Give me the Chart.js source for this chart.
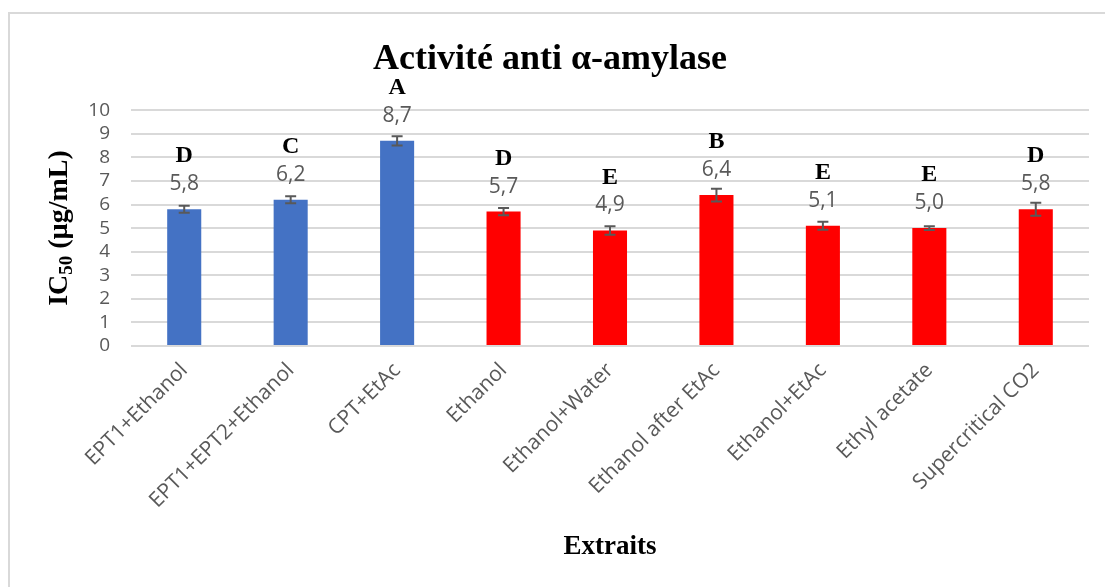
<!DOCTYPE html>
<html>
<head>
<meta charset="utf-8">
<script src="https://cdn.jsdelivr.net/npm/chart.js@4"></script>
<style>
  html, body { margin: 0; padding: 0; background: #fff; overflow: hidden; }
  #wrap { position: relative; width: 1105px; height: 587px; }
  #frame { position: absolute; left: 8px; top: 12px; width: 1200px; height: 700px; border: 2px solid #d9d9d9; box-sizing: border-box; }
  canvas { position: absolute; left: 0; top: 0; }
</style>
</head>
<body>
<div id="wrap">
  <div id="frame"></div>
  <canvas id="ic50Chart" width="1105" height="587"></canvas>
</div>
<script>
// ==== DATA ====
const extraits = ['EPT1+Ethanol', 'EPT1+EPT2+Ethanol', 'CPT+EtAc', 'Ethanol', 'Ethanol+Water',
                  'Ethanol after EtAc', 'Ethanol+EtAc', 'Ethyl acetate', 'Supercritical CO2'];
const ic50 = [5.8, 6.2, 8.7, 5.7, 4.9, 6.4, 5.1, 5.0, 5.8];
const ic50Err = [0.15, 0.15, 0.2, 0.15, 0.18, 0.27, 0.17, 0.08, 0.28];
const groups = ['D', 'C', 'A', 'D', 'E', 'B', 'E', 'E', 'D'];
const yTicks = [0, 1, 2, 3, 4, 5, 6, 7, 8, 9, 10];

const barColors = ic50.map((v, i) => i < 3 ? '#4472C4' : '#FF0000');

// error bars, value labels, letters and the y title with subscript
const annotatePlugin = {
    id: 'annotate',
    afterDatasetsDraw(chart) {
        const ctx = chart.ctx;
        const y = chart.scales.y;
        const meta = chart.getDatasetMeta(0);
        ctx.save();
        meta.data.forEach((bar, i) => {
            const hi = y.getPixelForValue(ic50[i] + ic50Err[i]);
            const lo = y.getPixelForValue(ic50[i] - ic50Err[i]);
            ctx.strokeStyle = '#595959';
            ctx.lineWidth = 2;
            ctx.beginPath();
            ctx.moveTo(bar.x, hi); ctx.lineTo(bar.x, lo);
            ctx.moveTo(bar.x - 5.5, hi); ctx.lineTo(bar.x + 5.5, hi);
            ctx.moveTo(bar.x - 5.5, lo); ctx.lineTo(bar.x + 5.5, lo);
            ctx.stroke();

            ctx.textAlign = 'center';
            ctx.textBaseline = 'middle';
            ctx.fillStyle = '#595959';
            ctx.font = '21px "Open Sans"';
            ctx.fillText(ic50[i].toFixed(1).replace('.', ','), bar.x, bar.y - 25);
            ctx.fillStyle = '#000';
            ctx.font = 'bold 24px "Liberation Serif"';
            ctx.fillText(groups[i], bar.x, bar.y - 53);
        });

        // y axis title: IC50 (µg/mL)
        ctx.translate(60, 228);
        ctx.rotate(-Math.PI / 2);
        ctx.fillStyle = '#000';
        ctx.textBaseline = 'middle';
        const big = 'bold 28px "Liberation Serif"';
        const small = 'bold 19px "Liberation Serif"';
        ctx.font = big;
        const w1 = ctx.measureText('IC').width;
        const w3 = ctx.measureText(' (µg/mL)').width;
        ctx.font = small;
        const w2 = ctx.measureText('50').width;
        let x = -(w1 + w2 + w3) / 2;
        ctx.textAlign = 'left';
        ctx.font = big;
        ctx.fillText('IC', x, 0);
        x += w1;
        ctx.font = small;
        ctx.fillText('50', x, 7);
        x += w2;
        ctx.font = big;
        ctx.fillText(' (µg/mL)', x, 0);
        ctx.restore();
    }
};

const ctxBar = document.getElementById('ic50Chart').getContext('2d');
new Chart(ctxBar, {
    type: 'bar',
    data: {
        labels: extraits,
        datasets: [{
            label: 'IC50',
            data: ic50,
            backgroundColor: barColors,
            borderWidth: 0,
            categoryPercentage: 1,
            barPercentage: 0.32
        }]
    },
    options: {
        responsive: false,
        animation: false,
        devicePixelRatio: 1,
        layout: { padding: { left: 11, right: 16, top: 0, bottom: 10 } },
        plugins: {
            legend: { display: false },
            tooltip: { enabled: false },
            title: {
                display: true,
                text: 'Activité anti α-amylase',
                color: '#000',
                font: { family: '"Liberation Serif"', size: 36, weight: 'bold' },
                padding: { top: 38, bottom: 29 }
            }
        },
        scales: {
            x: {
                afterFit(scale) { scale.height = 231; },
                grid: { display: false },
                border: { display: false },
                ticks: {
                    color: '#595959',
                    font: { family: '"Open Sans"', size: 21 },
                    minRotation: 45,
                    maxRotation: 45,
                    padding: 4
                },
                title: {
                    display: true,
                    text: 'Extraits',
                    color: '#000',
                    font: { family: '"Liberation Serif"', size: 27, weight: 'bold' },
                    padding: { top: 10, bottom: 14 }
                }
            },
            y: {
                min: 0,
                max: 10,
                afterFit(scale) { scale.width = 120; },
                afterBuildTicks(scale) { scale.ticks = yTicks.map(v => ({ value: v })); },
                grid: { color: '#d9d9d9', lineWidth: 2, drawTicks: false },
                border: { display: false },
                ticks: {
                    autoSkip: false,
                    color: '#595959',
                    font: { family: '"Open Sans"', size: 19 },
                    padding: 21
                }
            }
        }
    },
    plugins: [annotatePlugin]
});
</script>
</body>
</html>
